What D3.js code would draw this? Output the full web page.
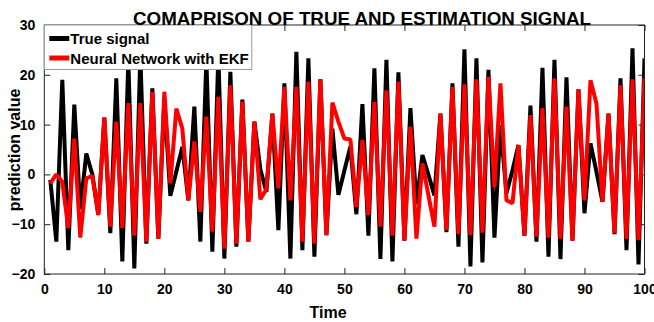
<!DOCTYPE html>
<html>
<head>
<meta charset="utf-8">
<script src="https://cdn.jsdelivr.net/npm/d3@7"></script>
<style>
  html, body { margin: 0; padding: 0; background: #fff; }
  svg { display: block; }
  text { font-family: "Liberation Sans", Arial, Helvetica, sans-serif; font-weight: bold; fill: #000; }
</style>
</head>
<body>
<svg id="chart" width="654" height="322"></svg>
<script>
const timeSteps = d3.range(1, 101);
const trueSignal = [
  -1.1, -13.5, 19, -15.2, 14, -7, 4.2, 0, -8, 11.4,
  -11.8, 19.3, -17.5, 23, -18.9, 24, -13.9, 17.3, -12.9, 15,
  -4.3, 0.6, 5.5, -5.2, 13.6, -13.5, 23, -15.5, 24, -16.9,
  20.6, -14.5, 15, -13.5, 10.6, 1, -3.5, 12.2, -11.2, 18.3,
  -16.9, 24.6, -15.2, 23.3, -16.5, 19.1, -12.2, 9.2, -4.1, 0.8,
  5.6, -8, 14.1, -12.3, 21.3, -17, 23, -17.5, 20.5, -13.3,
  13.3, -6, 3.9, -0.1, -4.2, 12.2, -11.6, 18.3, -14.5, 25.1,
  -18.5, 23.3, -17.7, 21, -12.7, 9.9, -3.8, 0.8, 5.9, -12.3,
  13.8, -13.5, 21.4, -16.5, 23, -17, 19.5, -13.3, 17.1, -7.8,
  6.2, 0.5, -5.5, 12.2, -12, 19.3, -15.2, 25.3, -18.1, 23.3
];
const ekfEstimate = [
  -1.8, 0, -1.5, -10.8, 7.2, -12.7, -0.8, -0.3, -8.2, 11.4,
  -10.5, 10.6, -10.8, 14.3, -12.3, 14.3, -13.5, 16.6, -12.9, 16.6,
  -1.8, 13.2, 9.2, -5.2, 6.6, -7.5, 11.6, -11.5, 15.6, -14.9,
  17.9, -13.9, 14.6, -13.5, 10.6, -5, -3, 12.2, -2.8, 17.6,
  -5.2, 17.6, -13.5, 18.6, -13.9, 19.1, -12.2, 14.4, 10.6, 7.2,
  7, -6.5, 6.9, -8.2, 14.5, -10.5, 16.9, -12.3, 18.6, -13.3,
  9.6, -12.9, 2.2, -4.2, -10.5, 12.2, -11.2, 17.6, -12, 18.1,
  -12.2, 19.1, -11.7, 19.6, -2.5, 18.3, -5.2, -5.8, 5.9, -12.3,
  11.9, -12.5, 13.3, -12.7, 19.3, -12.9, 13.6, -13.3, 17.1, -5.2,
  18.9, 14.2, -5.5, 12.2, -11.8, 17.9, -12.9, 19.1, -13.2, 19.3
];
const xTicks = [0, 10, 20, 30, 40, 50, 60, 70, 80, 90, 100];
const yTicks = [-20, -10, 0, 10, 20, 30];
const seriesNames = ["True signal", "Neural Network with EKF"];
const seriesColors = ["#000000", "#ff0000"];
const titleText = "COMAPRISON OF TRUE AND ESTIMATION SIGNAL";
const xLabelText = "Time";
const yLabelText = "prediction value";

(function () {
const svg = d3.select("#chart");
const mL = 44.3, mR = 644.5, mT = 25, mB = 274;
const x = d3.scaleLinear().domain([0, 100]).range([mL, mR]);
const y = d3.scaleLinear().domain([-20, 30]).range([mB, mT]);
const tickLen = 6;

svg.append("defs").append("clipPath").attr("id", "clip")
  .append("rect").attr("x", mL).attr("y", mT).attr("width", mR - mL).attr("height", mB - mT);

const axStyle = g => {
  g.selectAll("path.domain").remove();
  g.selectAll("line").attr("stroke", "#222").attr("stroke-width", 1);
  g.selectAll("text").style("font-size", "14px").style("font-weight", "bold").attr("fill", "#000");
};
svg.append("g").attr("transform", `translate(0,${mB})`)
  .call(d3.axisBottom(x).tickValues(xTicks).tickSize(-tickLen).tickPadding(10).tickFormat(d3.format("d")))
  .call(axStyle);
svg.append("g").attr("transform", `translate(0,${mT})`)
  .call(d3.axisTop(x).tickValues(xTicks).tickSize(-tickLen).tickFormat(""))
  .call(axStyle);
svg.append("g").attr("transform", `translate(${mL},0)`)
  .call(d3.axisLeft(y).tickValues(yTicks).tickSize(-tickLen).tickPadding(9).tickFormat(d3.format("d")))
  .call(axStyle);
svg.append("g").attr("transform", `translate(${mR},0)`)
  .call(d3.axisRight(y).tickValues(yTicks).tickSize(-tickLen).tickFormat(""))
  .call(axStyle);

const line = d3.line().x((d, i) => x(timeSteps[i])).y(d => y(d));
const plot = svg.append("g").attr("clip-path", "url(#clip)");
[trueSignal, ekfEstimate].forEach((s, k) => {
  plot.append("path").datum(s)
    .attr("fill", "none").attr("stroke", seriesColors[k])
    .attr("stroke-width", 4).attr("stroke-linejoin", "bevel")
    .attr("d", line);
});

svg.append("rect").attr("x", mL).attr("y", mT).attr("width", mR - mL).attr("height", mB - mT)
  .attr("fill", "none").attr("stroke", "#222").attr("stroke-width", 1);

const lg = svg.append("g");
lg.append("rect").attr("x", mL).attr("y", mT).attr("width", 207.5).attr("height", 44.5)
  .attr("fill", "#fff").attr("stroke", "#999").attr("stroke-width", 1);
seriesNames.forEach((n, k) => {
  const cy = mT + 13.5 + k * 19.5;
  lg.append("line").attr("x1", mL + 5).attr("x2", mL + 25).attr("y1", cy).attr("y2", cy)
    .attr("stroke", seriesColors[k]).attr("stroke-width", 5);
  lg.append("text").attr("x", mL + 26).attr("y", cy + 5.5).style("font-size", "15px").text(n);
});

svg.append("text").attr("x", 362).attr("y", 24.5).attr("text-anchor", "middle")
  .style("font-size", "19px").attr("textLength", 458).attr("lengthAdjust", "spacingAndGlyphs").text(titleText);
svg.append("text").attr("x", 328).attr("y", 318).attr("text-anchor", "middle")
  .style("font-size", "16px").text(xLabelText);
svg.append("text").attr("transform", "translate(20,150) rotate(-90)").attr("text-anchor", "middle")
  .style("font-size", "16px").text(yLabelText);
})();
</script>
</body>
</html>
